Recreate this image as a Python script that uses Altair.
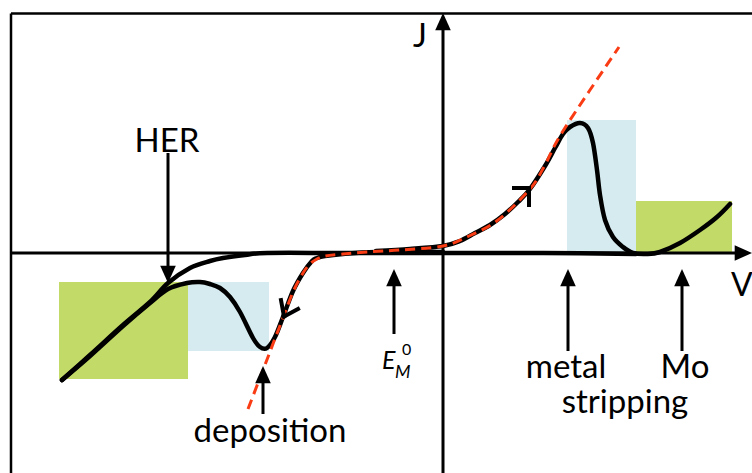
import altair as alt
import pandas as pd

# Schematic voltammogram. Potential V and current density J are in arbitrary
# units with the origin where the two axes cross.

# Cathodic sweep: baseline, metal deposition wave, diffusion hump, HER tail
cath_v = [0.00, -0.67, -1.00, -1.18, -1.26, -1.31, -1.40, -1.50, -1.60, -1.68,
          -1.76, -1.83, -1.90, -2.03, -2.13, -2.23, -2.33, -2.43, -2.56, -2.75,
          -2.93, -3.20, -3.53, -3.81]
cath_j = [0.01, 0.01, -0.01, -0.03, -0.05, -0.08, -0.20, -0.38, -0.64, -0.84,
          -0.95, -0.94, -0.85, -0.59, -0.44, -0.35, -0.31, -0.29, -0.30, -0.36,
          -0.50, -0.73, -1.03, -1.27]

# Return sweep from the HER limit back along the baseline
ret_v = [-3.81, -3.53, -3.20, -2.93, -2.75, -2.53, -2.33, -2.20, -1.98, -1.76,
         -1.00, 0.00, 1.00, 1.93]
ret_j = [-1.27, -1.02, -0.72, -0.49, -0.30, -0.15, -0.08, -0.05, -0.02, 0.00,
         0.00, 0.00, 0.00, -0.01]

# Anodic sweep: stripping peak, then Mo oxidation
anod_v = [-0.67, -0.33, 0.00, 0.17, 0.32, 0.47, 0.62, 0.75, 0.87, 1.02, 1.12,
          1.20, 1.27, 1.37, 1.45, 1.50, 1.54, 1.57, 1.62, 1.70, 1.80, 1.90,
          2.04, 2.17, 2.37, 2.57, 2.74, 2.87]
anod_j = [0.02, 0.04, 0.07, 0.12, 0.20, 0.28, 0.39, 0.51, 0.64, 0.87, 1.05,
          1.19, 1.26, 1.30, 1.25, 1.10, 0.83, 0.58, 0.33, 0.16, 0.06, 0.00,
          -0.01, 0.01, 0.10, 0.23, 0.36, 0.49]

# Kinetic (Butler-Volmer type) curve without mass-transport limits
bv_v = [-1.95, -1.85, -1.75, -1.67, -1.60, -1.50, -1.40, -1.33, -1.26, -1.18,
        -1.00, -0.76, -0.43, 0.00, 0.26, 0.55, 0.87, 1.02, 1.20, 1.76]
bv_j = [-1.56, -1.30, -1.04, -0.83, -0.65, -0.39, -0.20, -0.11, -0.06, -0.03,
        -0.01, 0.01, 0.03, 0.07, 0.17, 0.33, 0.64, 0.88, 1.22, 2.06]

# Shaded potential windows
zone_name = ["HER", "deposition", "stripping", "Mo"]
zone_v0 = [-3.84, -2.55, 1.24, 1.93]
zone_v1 = [-2.55, -1.74, 1.93, 2.89]
zone_j0 = [-1.26, -0.98, 0.00, 0.00]
zone_j1 = [-0.29, -0.29, 1.33, 0.52]
zone_color = ["#c2da68", "#d6ebef", "#d6ebef", "#c2da68"]

# Pointer arrows: position, tail and tip
ann_v = [-2.75, -1.80, -0.49, 1.25, 2.39]
ann_tail = [1.00, -1.61, -0.81, -0.98, -0.98]
ann_tip = [-0.30, -1.13, -0.16, -0.16, -0.16]

# Sweep-direction chevrons on the curves
chev_v0 = [0.71, 0.86, -1.62, -1.45]
chev_j0 = [0.65, 0.65, -0.47, -0.56]
chev_v1 = [0.86, 0.86, -1.59, -1.59]
chev_j1 = [0.65, 0.48, -0.635, -0.635]

# Text labels
lab_text = ["deposition", "metal", "stripping", "Mo"]
lab_v = [-1.73, 1.23, 1.82, 2.42]
lab_j = [-1.89, -1.245, -1.60, -1.245]
cap_text = ["HER", "J"]
cap_v = [-2.76, -0.23]
cap_j = [1.01, 2.06]

V_MIN, V_MAX = -4.43, 3.09
J_MIN, J_MAX = -2.20, 2.53
FRAME_V, FRAME_J = -4.32, 2.395
FONT = "Lato"

xs = alt.Scale(domain=[V_MIN, V_MAX], nice=False, zero=False)
ys = alt.Scale(domain=[J_MIN, J_MAX], nice=False, zero=False)


def X(f="v"):
    return alt.X(f"{f}:Q", scale=xs, axis=None)


def Y(f="j"):
    return alt.Y(f"{f}:Q", scale=ys, axis=None)


def curve(v, j):
    return pd.DataFrame({"v": v, "j": j, "i": range(len(v))})


zones = pd.DataFrame({"name": zone_name, "v0": zone_v0, "v1": zone_v1,
                      "j0": zone_j0, "j1": zone_j1, "c": zone_color})
zone_layer = alt.Chart(zones).mark_rect(opacity=1).encode(
    x=X("v0"), x2="v1", y=Y("j0"), y2="j1",
    color=alt.Color("c:N", scale=None),
)

# Frame (top and left edges) and the two axes
frame = pd.DataFrame({
    "v": [FRAME_V, FRAME_V], "j": [FRAME_J, FRAME_J],
    "v2": [V_MAX, FRAME_V], "j2": [FRAME_J, J_MIN],
})
frame_layer = alt.Chart(frame).mark_rule(color="black", strokeWidth=2.5).encode(
    x=X(), y=Y(), x2="v2", y2="j2")

axes = pd.DataFrame({
    "v": [FRAME_V, 0.0], "j": [0.0, J_MIN],
    "v2": [2.93, 0.0], "j2": [0.0, 2.24],
})
axes_layer = alt.Chart(axes).mark_rule(color="black", strokeWidth=3).encode(
    x=X(), y=Y(), x2="v2", y2="j2")

head_up = "M0,0L-0.9,2L0.9,2Z"
head_down = "M0,0L-0.9,-2L0.9,-2Z"
head_right = "M0,0L-2,-0.9L-2,0.9Z"

axis_tip_v = alt.Chart(pd.DataFrame({"v": [0.0], "j": [2.40]})).mark_point(
    shape=head_up, filled=True, size=300, color="black", opacity=1, strokeWidth=0
).encode(x=X(), y=Y())
axis_tip_h = alt.Chart(pd.DataFrame({"v": [3.09], "j": [0.0]})).mark_point(
    shape=head_right, filled=True, size=300, color="black", opacity=1, strokeWidth=0
).encode(x=X(), y=Y())

line_style = dict(color="black", strokeWidth=4.5, interpolate="cardinal",
                  strokeCap="round", strokeJoin="round")
ret_layer = alt.Chart(curve(ret_v, ret_j)).mark_line(**line_style).encode(
    x=X(), y=Y(), order="i:Q")
cath_layer = alt.Chart(curve(cath_v, cath_j)).mark_line(**line_style).encode(
    x=X(), y=Y(), order="i:Q")
anod_layer = alt.Chart(curve(anod_v, anod_j)).mark_line(**line_style).encode(
    x=X(), y=Y(), order="i:Q")
bv_layer = alt.Chart(curve(bv_v, bv_j)).mark_line(
    color="#fa3c14", strokeWidth=3, strokeDash=[10, 6], interpolate="cardinal"
).encode(x=X(), y=Y(), order="i:Q")

chev = pd.DataFrame({"v": chev_v0, "j": chev_j0, "v2": chev_v1, "j2": chev_j1})
chev_layer = alt.Chart(chev).mark_rule(
    color="black", strokeWidth=4, strokeCap="square").encode(
    x=X(), y=Y(), x2="v2", y2="j2")

# Pointer arrows: shaft plus a filled head at the tip
ann = pd.DataFrame({"v": ann_v, "tail": ann_tail, "tip": ann_tip})
ann["down"] = ann["tail"] > ann["tip"]
ann["end"] = ann["tip"] + (ann["tail"] - ann["tip"]).apply(lambda d: 0.08 if d > 0 else -0.08)
shaft_layer = alt.Chart(ann).mark_rule(color="black", strokeWidth=3).encode(
    x=X(), y=Y("tail"), y2="end")
heads_down = alt.Chart(ann[ann["down"]]).mark_point(
    shape=head_down, filled=True, size=300, color="black", opacity=1, strokeWidth=0
).encode(x=X(), y=Y("tip"))
heads_up = alt.Chart(ann[~ann["down"]]).mark_point(
    shape=head_up, filled=True, size=300, color="black", opacity=1, strokeWidth=0
).encode(x=X(), y=Y("tip"))

labels = pd.DataFrame({"t": lab_text, "v": lab_v, "j": lab_j})
label_layer = alt.Chart(labels).mark_text(
    font=FONT, fontSize=33, color="black", align="center", baseline="alphabetic"
).encode(x=X(), y=Y(), text="t:N")

caps = pd.DataFrame({"t": cap_text, "v": cap_v, "j": cap_j})
cap_layer = alt.Chart(caps).mark_text(
    font=FONT, fontSize=33, color="black", align="center", baseline="alphabetic"
).encode(x=X(), y=Y(), text="t:N")

v_label = alt.Chart(pd.DataFrame({"t": ["V"], "v": [2.88], "j": [-0.43]})).mark_text(
    font=FONT, fontSize=32, color="black", align="left", baseline="alphabetic"
).encode(x=X(), y=Y(), text="t:N")

# Standard potential label E with subscript M and superscript 0
e_main = alt.Chart(pd.DataFrame({"t": ["E"], "v": [-0.61], "j": [-1.16]})).mark_text(
    font=FONT, fontSize=25, fontStyle="italic", color="black", align="left",
    baseline="alphabetic").encode(x=X(), y=Y(), text="t:N")
e_sub = alt.Chart(pd.DataFrame({"t": ["M"], "v": [-0.48], "j": [-1.245]})).mark_text(
    font=FONT, fontSize=18, fontStyle="italic", color="black", align="left",
    baseline="alphabetic").encode(x=X(), y=Y(), text="t:N")
e_sup = alt.Chart(pd.DataFrame({"t": ["0"], "v": [-0.41], "j": [-1.02]})).mark_text(
    font=FONT, fontSize=16, color="black", align="left",
    baseline="alphabetic").encode(x=X(), y=Y(), text="t:N")

chart = alt.layer(
    zone_layer, frame_layer, axes_layer, axis_tip_v, axis_tip_h,
    ret_layer, cath_layer, anod_layer, bv_layer, chev_layer,
    shaft_layer, heads_down, heads_up,
    label_layer, cap_layer, v_label, e_main, e_sub, e_sup,
).properties(
    width=752, height=473, padding=0, autosize=alt.AutoSizeParams(type="none"),
    background="white",
).configure_view(stroke=None)

chart.save("out.html", embed_options={"renderer": "svg", "actions": False})
